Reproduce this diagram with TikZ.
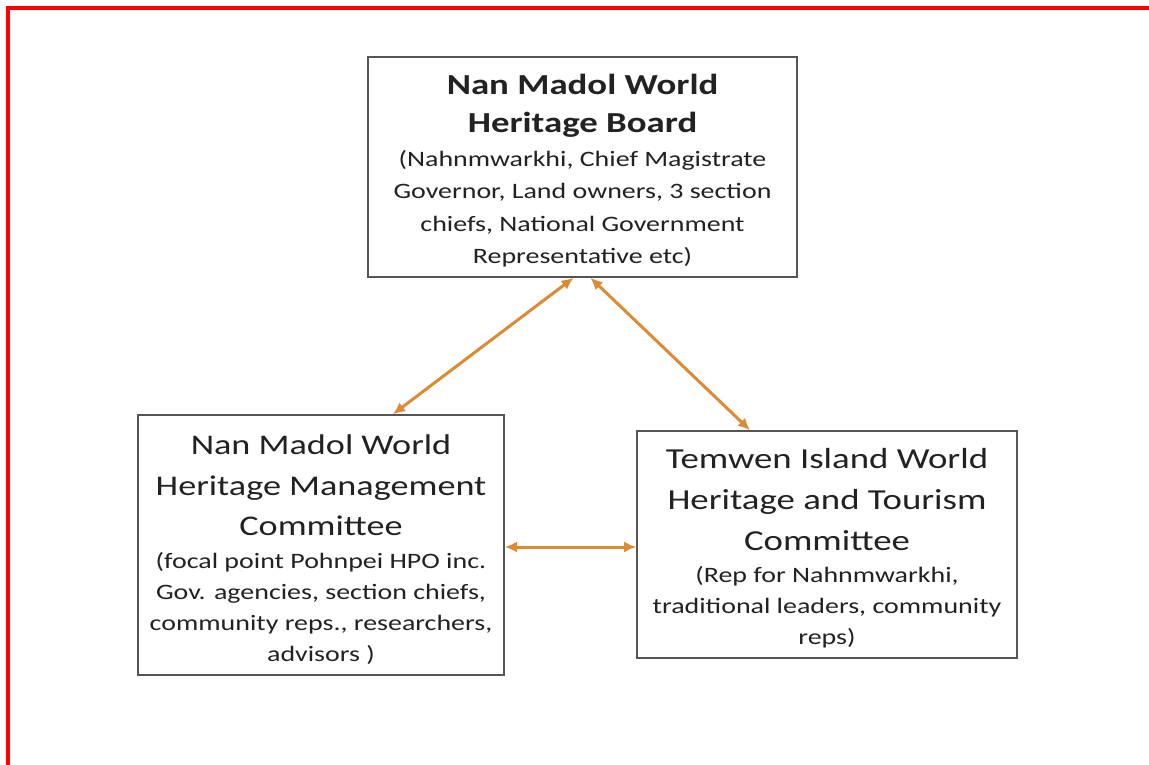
\documentclass[tikz,border=0pt]{standalone}
\usepackage{fontspec}
\setmainfont{Carlito}[FakeStretch=1.27]
\usetikzlibrary{arrows.meta}
\definecolor{boxgray}{HTML}{555555}
\definecolor{arrowor}{HTML}{DD8A35}
\definecolor{textgray}{HTML}{222222}
\tikzset{
  orgbox/.style={draw=boxgray, line width=1.6pt, fill=white, inner sep=0pt},
  link/.style={draw=arrowor, line width=3pt, {Latex[length=12pt,width=11pt]}-{Latex[length=12pt,width=11pt]}},
  boldtitle/.style={align=center, text=textgray, inner sep=0pt, font=\fontsize{29}{38}\selectfont\bfseries},
  plaintitle/.style={align=center, text=textgray, inner sep=0pt, font=\fontsize{28.5}{40.5}\selectfont},
  subtext/.style={align=center, text=textgray, inner sep=0pt, font=\fontsize{22}{31}\selectfont},
  topsubtext/.style={align=center, text=textgray, inner sep=0pt, font=\fontsize{22}{32.5}\selectfont},
}
\begin{document}
\begin{tikzpicture}[x=1pt,y=-1pt]
\useasboundingbox (0,0) rectangle (1149,765);
\fill[white] (0,0) rectangle (1149,765);
\draw[red, line width=4.5pt] (8,765) -- (8,8) -- (1149,8);

\node[orgbox, minimum width=429pt, minimum height=220pt] (topbox) at (582.5,167) {};
\node[boldtitle, anchor=north] (toptitle) at (582.5,74) {Nan Madol World\\ Heritage Board};
\node[topsubtext, anchor=north] (topsub) at (582.5,150) {(Nahnmwarkhi, Chief Magistrate\\ Governor, Land owners, 3 section\\ chiefs, National Government\\ Representative etc)};

\node[orgbox, minimum width=366pt, minimum height=260pt] (leftbox) at (321,545) {};
\node[plaintitle, anchor=north] (lefttitle) at (321,435) {Nan Madol World\\ Heritage Management\\ Committee};
\node[subtext, anchor=north] (leftsub) at (321,552) {(focal point Pohnpei HPO inc.\\ Gov. agencies, section chiefs,\\ community reps., researchers,\\ advisors )};

\node[orgbox, minimum width=380pt, minimum height=227pt] (rightbox) at (827,544.5) {};
\node[plaintitle, anchor=north, font=\fontsize{29}{41}\selectfont] (righttitle) at (827,448) {Temwen Island World\\ Heritage and Tourism\\ Committee};
\node[subtext, anchor=north] (rightsub) at (827,566) {(Rep for Nahnmwarkhi,\\ traditional leaders, community\\ reps)};

\draw[link] ([xshift=-9pt]topbox.south) -- ([xshift=72pt]leftbox.north);
\draw[link] ([xshift=8pt]topbox.south) -- ([xshift=-77pt]rightbox.north);
\draw[link] ([yshift=-2pt]leftbox.east) -- ([yshift=-2pt]leftbox.east -| rightbox.west);
\end{tikzpicture}
\end{document}
